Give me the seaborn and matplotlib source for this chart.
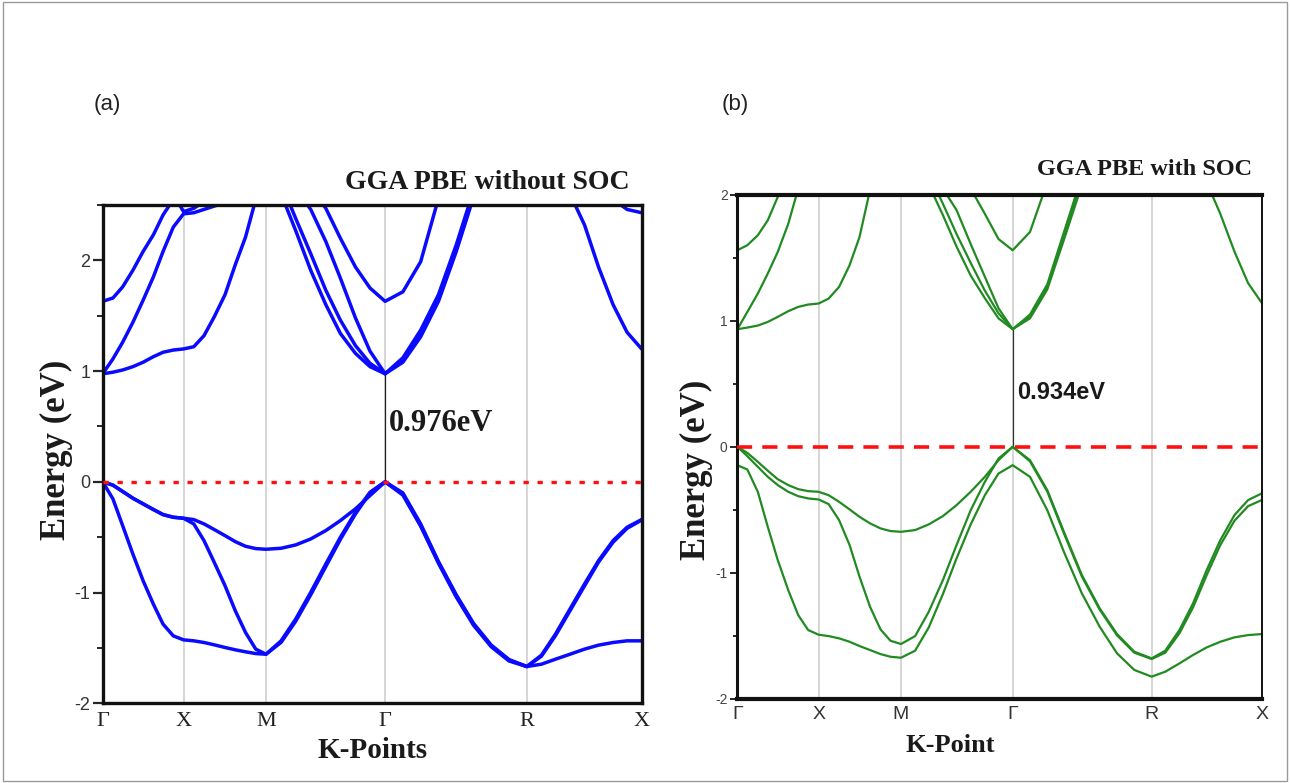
import numpy as np
import pandas as pd
import matplotlib
matplotlib.use("Agg")
import matplotlib.pyplot as plt
import seaborn as sns
from matplotlib.patches import Rectangle
from matplotlib.ticker import MultipleLocator

# --- data ---------------------------------------------------------------------
kpath_labels = ["Γ", "X", "M", "Γ", "R", "X"]

# (a) GGA PBE without SOC: high-symmetry positions and sampled k-grid
ticks_a = [0.0, 0.150, 0.303, 0.524, 0.787, 1.0]
k_a = [0.000, 0.019, 0.037, 0.056, 0.075, 0.094, 0.112, 0.131,
       0.150, 0.169, 0.188, 0.207, 0.227, 0.246, 0.265, 0.284,
       0.303, 0.331, 0.358, 0.386, 0.414, 0.441, 0.469, 0.496,
       0.524, 0.557, 0.590, 0.623, 0.656, 0.688, 0.721, 0.754,
       0.787, 0.814, 0.840, 0.867, 0.894, 0.920, 0.947, 0.973, 1.000]
gap_a = 0.976

a_v1 = [0, -0.03, -0.087, -0.148, -0.199, -0.25, -0.296, -0.32,
        -0.329, -0.341, -0.38, -0.431, -0.486, -0.54, -0.582, -0.603,
        -0.609, -0.600, -0.570, -0.516, -0.440, -0.350, -0.244, -0.124,
        0.0, -0.11, -0.395, -0.727, -1.029, -1.285, -1.481, -1.611,
        -1.668, -1.566, -1.376, -1.149, -0.923, -0.712, -0.531, -0.410, -0.341]
a_v2 = [0, -0.03, -0.087, -0.148, -0.199, -0.25, -0.296, -0.32,
        -0.329, -0.38, -0.531, -0.727, -0.938, -1.164, -1.36, -1.511,
        -1.557, -1.436, -1.240, -0.998, -0.742, -0.501, -0.275, -0.094,
        0.0, -0.12, -0.40, -0.735, -1.04, -1.295, -1.49, -1.618,
        -1.668, -1.575, -1.39, -1.165, -0.94, -0.725, -0.545, -0.42, -0.345]
a_v3 = [0, -0.154, -0.395, -0.652, -0.893, -1.104, -1.285, -1.391,
        -1.427, -1.436, -1.451, -1.472, -1.496, -1.517, -1.535, -1.551,
        -1.557, -1.45, -1.26, -1.02, -0.765, -0.52, -0.29, -0.10,
        0.0, -0.10, -0.38, -0.72, -1.02, -1.278, -1.475, -1.605,
        -1.668, -1.647, -1.602, -1.557, -1.511, -1.475, -1.451, -1.436, -1.436]
a_c1 = [0.976, 0.99, 1.01, 1.04, 1.08, 1.13, 1.17, 1.19,
        1.20, 1.22, 1.32, 1.49, 1.69, 1.96, 2.21, 2.55,
        2.9, 2.6, 2.27, 1.91, 1.60, 1.34, 1.16, 1.04,
        0.976, 1.10, 1.34, 1.66, 2.11, 2.6, 3.0, 3.3,
        3.5, 3.3, 3.0, 2.6, 2.32, 1.94, 1.60, 1.35, 1.20]
a_c2 = [0.976, 1.11, 1.26, 1.44, 1.64, 1.85, 2.08, 2.30,
        2.42, 2.43, 2.46, 2.49, 2.52, 2.6, 2.7, 2.8,
        2.9, 2.7, 2.38, 2.06, 1.73, 1.46, 1.23, 1.07,
        0.976, 1.12, 1.37, 1.69, 2.14, 2.63, 3.0, 3.2,
        3.4, 3.2, 3.0, 2.85, 2.75, 2.65, 2.55, 2.46, 2.43]
a_c3 = [1.63, 1.66, 1.76, 1.91, 2.08, 2.23, 2.41, 2.55,
        2.7, 2.8, 2.85, 2.9, 2.95, 3.0, 3.0, 3.0,
        2.95, 2.8, 2.65, 2.46, 2.17, 1.84, 1.48, 1.18,
        0.976, 1.08, 1.31, 1.63, 2.08, 2.57, 3.0, 3.2,
        3.4, 3.4, 3.4, 3.3, 3.2, 3.1, 3.0, 2.9, 2.8]
a_c4 = [3.2, 3.15, 3.1, 3.0, 2.9, 2.8, 2.7, 2.6,
        2.44, 2.47, 2.53, 2.65, 2.8, 2.95, 3.1, 3.2,
        3.3, 3.1, 2.85, 2.65, 2.47, 2.20, 1.94, 1.75,
        1.63, 1.716, 1.988, 2.56, 3.0, 3.3, 3.5, 3.6,
        3.6, 3.6, 3.5, 3.4, 3.3, 3.2, 3.1, 3.0, 2.95]

# (b) GGA PBE with SOC
ticks_b = [0.0, 0.155, 0.312, 0.525, 0.790, 1.0]
k_b = [0.000, 0.019, 0.039, 0.058, 0.077, 0.097, 0.116, 0.135,
       0.155, 0.174, 0.194, 0.214, 0.233, 0.253, 0.273, 0.292,
       0.312, 0.339, 0.365, 0.392, 0.418, 0.445, 0.472, 0.498,
       0.525, 0.558, 0.591, 0.624, 0.657, 0.691, 0.724, 0.757,
       0.790, 0.816, 0.843, 0.869, 0.895, 0.921, 0.948, 0.974, 1.000]
gap_b = 0.934

b_v1 = [0, -0.048, -0.119, -0.190, -0.257, -0.304, -0.336, -0.352,
        -0.357, -0.384, -0.437, -0.497, -0.556, -0.608, -0.648, -0.669,
        -0.675, -0.661, -0.616, -0.550, -0.463, -0.357, -0.238, -0.106,
        0.0, -0.106, -0.344, -0.688, -1.019, -1.283, -1.487, -1.627,
        -1.680, -1.619, -1.455, -1.243, -0.979, -0.741, -0.542, -0.423, -0.370]
b_v2 = [0, -0.074, -0.159, -0.238, -0.304, -0.357, -0.392, -0.410,
        -0.418, -0.455, -0.582, -0.780, -1.032, -1.270, -1.450, -1.540,
        -1.566, -1.503, -1.310, -1.058, -0.780, -0.503, -0.278, -0.093,
        0.0, -0.115, -0.355, -0.70, -1.03, -1.293, -1.497, -1.635,
        -1.685, -1.635, -1.481, -1.275, -1.019, -0.780, -0.587, -0.471, -0.423]
b_v3 = [-0.146, -0.180, -0.357, -0.635, -0.899, -1.138, -1.336, -1.455,
        -1.492, -1.503, -1.521, -1.548, -1.582, -1.614, -1.646, -1.667,
        -1.675, -1.619, -1.434, -1.169, -0.886, -0.616, -0.384, -0.212,
        -0.146, -0.238, -0.503, -0.847, -1.164, -1.429, -1.640, -1.772,
        -1.825, -1.786, -1.720, -1.653, -1.593, -1.548, -1.513, -1.495, -1.487]
b_c1 = [0.934, 0.947, 0.963, 0.992, 1.032, 1.077, 1.111, 1.130,
        1.138, 1.177, 1.270, 1.442, 1.667, 2.04, 2.2, 2.35,
        2.5, 2.3, 2.08, 1.84, 1.59, 1.36, 1.18, 1.02,
        0.934, 1.037, 1.270, 1.693, 2.1, 2.5, 2.8, 3.0,
        3.1, 2.9, 2.6, 2.3, 2.1, 1.85, 1.55, 1.30, 1.143]
b_c2 = [0.934, 1.071, 1.217, 1.376, 1.548, 1.77, 2.05, 2.2,
        2.3, 2.4, 2.5, 2.6, 2.7, 2.75, 2.8, 2.75,
        2.7, 2.4, 2.17, 1.93, 1.69, 1.46, 1.24, 1.06,
        0.934, 1.05, 1.29, 1.72, 2.15, 2.55, 2.85, 3.0,
        3.1, 3.0, 2.9, 2.8, 2.7, 2.6, 2.5, 2.4, 2.35]
b_c3 = [1.561, 1.601, 1.680, 1.799, 1.984, 2.1, 2.2, 2.3,
        2.4, 2.5, 2.6, 2.7, 2.8, 2.85, 2.9, 2.9,
        2.85, 2.5, 2.28, 2.05, 1.88, 1.61, 1.35, 1.10,
        0.934, 1.02, 1.25, 1.66, 2.08, 2.45, 2.8, 3.0,
        3.1, 3.1, 3.1, 3.0, 2.9, 2.8, 2.7, 2.6, 2.5]
b_c4 = [2.6, 2.6, 2.65, 2.7, 2.75, 2.8, 2.85, 2.9,
        2.95, 3.0, 3.0, 3.0, 2.95, 2.9, 2.8, 2.7,
        2.6, 2.5, 2.4, 2.3, 2.2, 2.05, 1.85, 1.65,
        1.561, 1.706, 2.1, 2.5, 2.8, 3.0, 3.2, 3.3,
        3.3, 3.3, 3.3, 3.2, 3.1, 3.0, 2.9, 2.8, 2.7]


def long_table(k, bands):
    rows = [pd.DataFrame({"k": k, "E": e, "band": name}) for name, e in bands.items()]
    return pd.concat(rows, ignore_index=True)


df_a = long_table(k_a, {"v1": a_v1, "v2": a_v2, "v3": a_v3,
                        "c1": a_c1, "c2": a_c2, "c3": a_c3, "c4": a_c4})
df_b = long_table(k_b, {"v1": b_v1, "v2": b_v2, "v3": b_v3,
                        "c1": b_c1, "c2": b_c2, "c3": b_c3, "c4": b_c4})

# --- figure -------------------------------------------------------------------
sns.set_theme(style="white")
plt.rcParams["font.family"] = ["Liberation Sans", "DejaVu Sans"]
plt.rcParams["axes.unicode_minus"] = False
SERIF = ["Liberation Serif", "DejaVu Serif"]

fig = plt.figure(figsize=(12.9, 7.83), dpi=100)
fig.patches.append(Rectangle((0.002, 0.002), 0.996, 0.995, transform=fig.transFigure,
                             fill=False, ec="#9a9a9a", lw=1.0))

ax_a = fig.add_axes([0.0796, 0.1018, 0.4178, 0.6364])
ax_b = fig.add_axes([0.5716, 0.1077, 0.4065, 0.6433])

# panel (a)
for t in ticks_a[1:-1]:
    ax_a.axvline(t, color="#cfcfcf", lw=1.2, zorder=0)
sns.lineplot(data=df_a, x="k", y="E", units="band", estimator=None, sort=False,
             color="#0a0aff", lw=2.5, ax=ax_a, legend=False,
             solid_joinstyle="round", solid_capstyle="round")
ax_a.axhline(0, color="#ff1010", lw=2.4, ls=(0, (1.6, 2.6)), zorder=3)
ax_a.plot([ticks_a[3], ticks_a[3]], [0, gap_a], color="#222222", lw=0.9, zorder=1)
ax_a.text(ticks_a[3] + 0.007, 0.525, f"{gap_a}eV", family=SERIF, fontweight="bold",
          fontsize=22, color="#1a1a1a", va="center", ha="left")
ax_a.set_xlim(0, 1)
ax_a.set_ylim(-2, 2.5)
ax_a.set_xticks(ticks_a)
ax_a.set_xticklabels(kpath_labels, family=SERIF, fontsize=16, color="#222222")
ax_a.yaxis.set_major_locator(MultipleLocator(1))
ax_a.yaxis.set_minor_locator(MultipleLocator(0.5))
ax_a.tick_params(axis="x", length=0, pad=6)
ax_a.tick_params(axis="y", which="major", direction="out", length=7, width=1.6,
                 labelsize=13, labelcolor="#333333", left=True, pad=2)
ax_a.tick_params(axis="y", which="minor", direction="out", length=4, width=1.4, left=True)
ax_a.set_xlabel("")
ax_a.set_ylabel("")
for s in ax_a.spines.values():
    s.set_color("#111111")
    s.set_linewidth(2.4)

# panel (b)
for t in ticks_b[1:-1]:
    ax_b.axvline(t, color="#cfcfcf", lw=1.2, zorder=0)
sns.lineplot(data=df_b, x="k", y="E", units="band", estimator=None, sort=False,
             color="#218a21", lw=1.6, ax=ax_b, legend=False,
             solid_joinstyle="round", solid_capstyle="round")
ax_b.axhline(0, color="#ff1010", lw=2.6, ls=(0, (4.2, 2.8)), zorder=3)
ax_b.plot([ticks_b[3], ticks_b[3]], [0, gap_b], color="#333333", lw=0.9, zorder=1)
ax_b.text(ticks_b[3] + 0.008, 0.434, f"{gap_b}eV", fontweight="bold",
          fontsize=17, color="#1a1a1a", va="center", ha="left")
ax_b.set_xlim(0, 1)
ax_b.set_ylim(-2, 2)
ax_b.set_xticks(ticks_b)
ax_b.set_xticklabels(kpath_labels, fontsize=14, color="#333333")
ax_b.yaxis.set_major_locator(MultipleLocator(1))
ax_b.yaxis.set_minor_locator(MultipleLocator(0.5))
ax_b.tick_params(axis="x", length=0, pad=5)
ax_b.tick_params(axis="y", which="major", direction="out", length=5, width=1.4,
                 labelsize=10, labelcolor="#444444", left=True, pad=2)
ax_b.tick_params(axis="y", which="minor", direction="out", length=3, width=1.4, left=True)
ax_b.set_xlabel("")
ax_b.set_ylabel("")
for name, s in ax_b.spines.items():
    s.set_color("#111111")
    s.set_linewidth({"top": 3.0, "bottom": 3.0, "left": 2.2, "right": 1.4}[name])

# labels and titles
fig.text(0.083, 0.866, "(a)", fontsize=16, color="#222222", ha="center", va="center")
fig.text(0.570, 0.866, "(b)", fontsize=16, color="#222222", ha="center", va="center")
fig.text(0.4884, 0.7663, "GGA PBE without SOC", family=SERIF, fontweight="bold",
         fontsize=20, color="#1a1a1a", ha="right", va="center")
fig.text(0.9705, 0.7829, "GGA PBE with SOC", family=SERIF, fontweight="bold",
         fontsize=17.5, color="#1a1a1a", ha="right", va="center")
fig.text(0.044, 0.4253, "Energy (eV)", family=SERIF, fontweight="bold", fontsize=25,
         color="#1a1a1a", rotation=90, ha="center", va="center")
fig.text(0.540, 0.400, "Energy (eV)", family=SERIF, fontweight="bold", fontsize=25,
         color="#1a1a1a", rotation=90, ha="center", va="center")
fig.text(0.289, 0.042, "K-Points", family=SERIF, fontweight="bold", fontsize=21,
         color="#1a1a1a", ha="center", va="center")
fig.text(0.7364, 0.0485, "K-Point", family=SERIF, fontweight="bold", fontsize=19,
         color="#1a1a1a", ha="center", va="center")

fig.savefig("out.png", dpi=100, facecolor="white")
